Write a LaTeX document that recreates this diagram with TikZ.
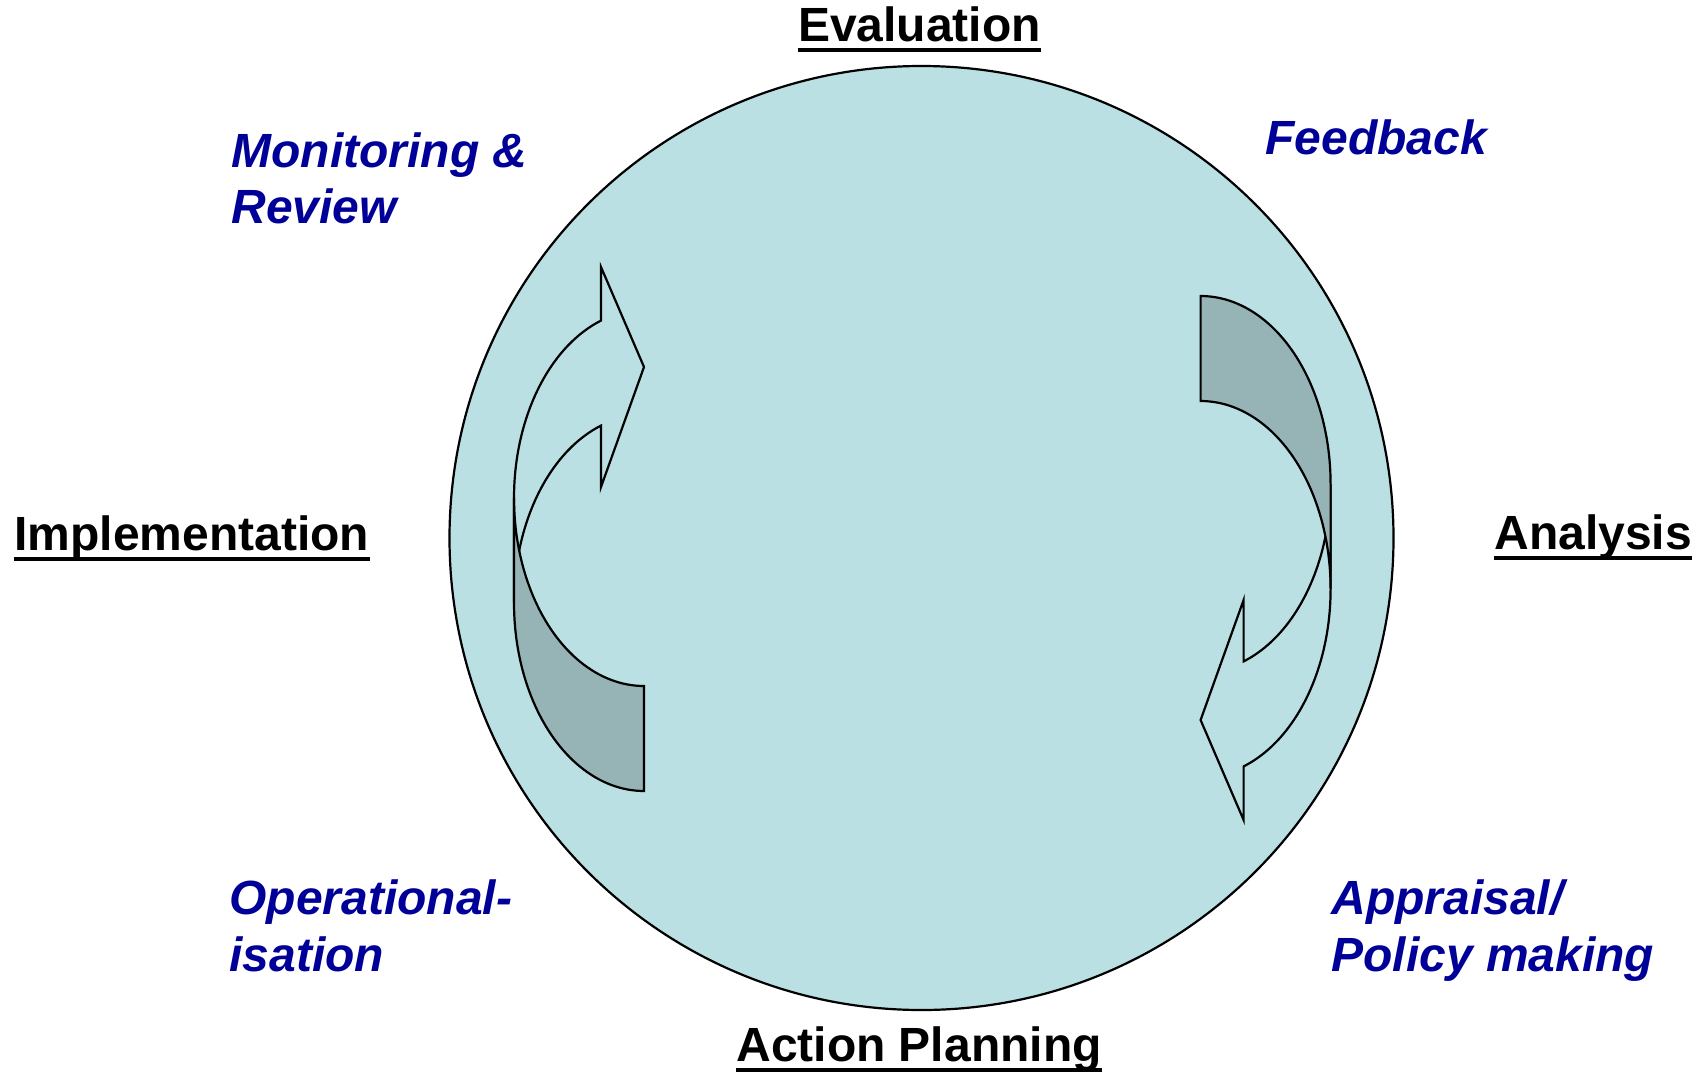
\documentclass[tikz,border=0pt]{standalone}
\usepackage{fontspec}
\setmainfont{Liberation Sans}
\definecolor{discfill}{RGB}{186,224,227}
\definecolor{shadefill}{RGB}{150,180,182}
\definecolor{labblue}{RGB}{0,0,153}
\newcommand{\drawcurvedarrow}{%
  % front (light) part with the arrow head
  \filldraw[outline, fill=discfill]
    (514,498)
    -- plot[domain=180:250.68, samples=50, variable=\t] ({644+130*cos(\t)},{498+188*sin(\t)})
    -- (601,267) -- (644,367) -- (601,487)
    -- plot[domain=250.68:180, samples=50, variable=\t] ({644+130*cos(\t)},{603+188*sin(\t)})
    -- cycle;
  % shaded (under side) tail part
  \filldraw[outline, fill=shadefill]
    (514,498)
    -- plot[domain=180:90, samples=50, variable=\t] ({644+130*cos(\t)},{498+188*sin(\t)})
    -- (644,791)
    -- plot[domain=90:180, samples=50, variable=\t] ({644+130*cos(\t)},{603+188*sin(\t)})
    -- cycle;
}
\begin{document}
\begin{tikzpicture}[x=0.5pt, y=-0.5pt,
  outline/.style={line width=1.1pt, line join=miter, draw=black},
  stage/.style={inner sep=0pt, text=black, font=\fontsize{24}{28}\selectfont\bfseries},
  sublab/.style={inner sep=0pt, text=labblue, font=\fontsize{24}{28}\selectfont\bfseries\itshape},
  uline/.style={line width=2pt, draw=black},
]
\useasboundingbox[fill=white] (0,0) rectangle (1708,1071);

% disc
\node[circle, draw=black, line width=1.1pt, fill=discfill, minimum size=472pt, inner sep=0pt] (disc) at (921.5,538) {};

% left curved arrow
\begin{scope}
  \drawcurvedarrow
\end{scope}
% right curved arrow (rotated copy)
\begin{scope}[rotate around={180:(922.3,543.5)}]
  \drawcurvedarrow
\end{scope}

% stage labels (underlined)
\node[stage, anchor=base] (evaluation) at (919.5,41) {Evaluation};
\draw[uline] ([yshift=-4.5pt]evaluation.base west) -- ([yshift=-4.5pt]evaluation.base east);

\node[stage, anchor=base west] (implementation) at (14,550) {Implementation};
\draw[uline] ([yshift=-4.5pt]implementation.base west) -- ([yshift=-4.5pt]implementation.base east);

\node[stage, anchor=base west] (analysis) at (1494,549) {Analysis};
\draw[uline] ([yshift=-4.5pt]analysis.base west) -- ([yshift=-4.5pt]analysis.base east);

\node[stage, anchor=base] (actionplanning) at (919,1061) {Action Planning};
\draw[uline] ([yshift=-4.5pt]actionplanning.base west) -- ([yshift=-4.5pt]actionplanning.base east);

% blue italic labels
\node[sublab, anchor=base west] (monA) at (231,167) {Monitoring \&};
\node[sublab, anchor=base west] (monB) at (231,223) {Review};
\node[sublab, anchor=base west] (feedback) at (1265,154) {Feedback};
\node[sublab, anchor=base west] (opA) at (229,914) {Operational-};
\node[sublab, anchor=base west] (opB) at (229,971) {isation};
\node[sublab, anchor=base west] (appA) at (1331,914) {Appraisal/};
\node[sublab, anchor=base west] (appB) at (1331,971) {Policy making};
\end{tikzpicture}
\end{document}
